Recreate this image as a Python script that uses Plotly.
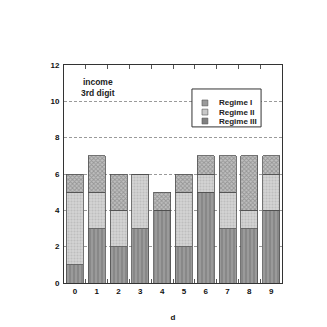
import plotly.graph_objects as go

digits = ["0", "1", "2", "3", "4", "5", "6", "7", "8", "9"]
regime_iii = [1, 3, 2, 3, 4, 2, 5, 3, 3, 4]
regime_ii = [4, 2, 2, 3, 0, 3, 1, 2, 1, 2]
regime_i = [1, 2, 2, 0, 1, 1, 1, 2, 3, 1]
y_ticks = [0, 2, 4, 6, 8, 10, 12]
legend_names = ["Regime I", "Regime II", "Regime III"]

FONT = "Liberation Sans, Arial, sans-serif"
styles = {
    "Regime III": dict(color="#8c8c8c", pattern=dict(shape="|", fgcolor="#6e6e6e", bgcolor="#9a9a9a", size=4, solidity=0.4)),
    "Regime II": dict(color="#c8c8c8", pattern=dict(shape=".", fgcolor="#a8a8a8", bgcolor="#d4d4d4", size=3, solidity=0.4)),
    "Regime I": dict(color="#a0a0a0", pattern=dict(shape="x", fgcolor="#6a6a6a", bgcolor="#c0c0c0", size=3, solidity=0.5)),
}
swatch_colors = {"Regime I": "#9a9a9a", "Regime II": "#c8c8c8", "Regime III": "#808080"}

fig = go.Figure()
for name, vals in [("Regime III", regime_iii), ("Regime II", regime_ii), ("Regime I", regime_i)]:
    fig.add_trace(go.Bar(
        x=digits, y=vals, name=name, showlegend=False,
        marker=dict(color=styles[name]["color"], line=dict(color="#505050", width=0.8),
                    pattern=styles[name]["pattern"]),
    ))

# manual legend (compact)
shapes = [dict(type="rect", xref="paper", yref="paper", x0=0.587, x1=0.904, y0=0.716, y1=0.890,
               line=dict(color="#333333", width=1), fillcolor="white", layer="above")]
annotations = []
ys = [0.826, 0.784, 0.743]
for name, yc in zip(legend_names, ys):
    shapes.append(dict(type="rect", xref="paper", yref="paper", x0=0.633, x1=0.660,
                       y0=yc - 0.0135, y1=yc + 0.0135, line=dict(color="#555555", width=0.6),
                       fillcolor=swatch_colors[name], layer="above"))
    annotations.append(dict(text="<b>%s</b>" % name, x=0.70, y=yc, xref="paper", yref="paper",
                            xanchor="left", yanchor="middle", showarrow=False,
                            font=dict(family=FONT, size=8, color="#222222")))

annotations.append(dict(
    text="<b>income<br>3rd digit</b>", x=0.155, y=0.955, xref="paper", yref="paper",
    xanchor="center", yanchor="top", align="center", showarrow=False,
    font=dict(family=FONT, size=8.5, color="#222222"),
))

fig.update_layout(
    barmode="stack",
    bargap=0.22,
    width=327, height=327,
    margin=dict(l=56, r=53, t=57, b=52),
    paper_bgcolor="white", plot_bgcolor="white",
    font=dict(family=FONT, size=8, color="#222222"),
    showlegend=False,
    shapes=shapes,
    annotations=annotations,
    xaxis=dict(
        type="category", showline=True, linecolor="#333333", linewidth=1, mirror="ticks",
        ticks="inside", tickson="boundaries", ticklen=4, tickcolor="#555555",
        tickfont=dict(family=FONT, size=8, color="#111111", weight="bold"),
        title=dict(text="<b>d</b>", standoff=19, font=dict(family=FONT, size=8, color="#111111")),
        showgrid=False,
    ),
    yaxis=dict(
        range=[0, 12], tickvals=y_ticks, showline=True, linecolor="#333333", linewidth=1,
        mirror=True, ticks="", ticklabelstandoff=2,
        tickfont=dict(family=FONT, size=8, color="#111111", weight="bold"),
        showgrid=True, gridcolor="#9a9a9a", griddash="3px,2px", gridwidth=0.8,
        zeroline=False,
    ),
)

fig.write_html("out.html")
